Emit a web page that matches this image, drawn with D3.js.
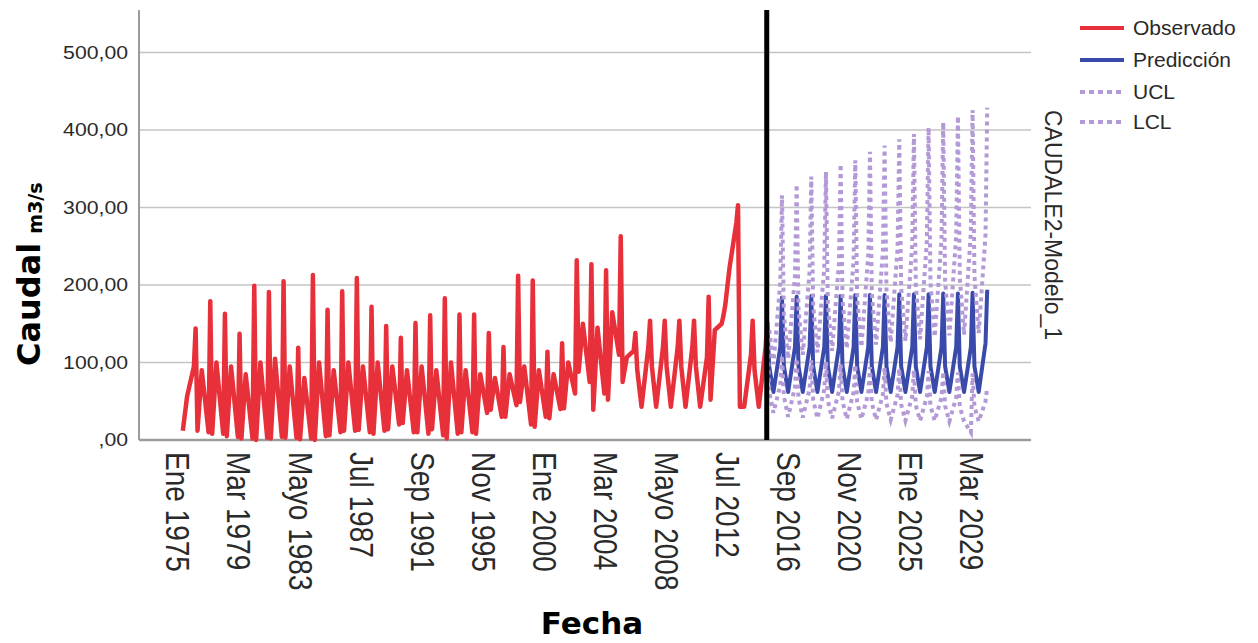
<!DOCTYPE html>
<html>
<head>
<meta charset="utf-8">
<script src="https://cdn.jsdelivr.net/npm/d3@7"></script>
<style>
  body { margin: 0; background: #fff; }
  svg { display: block; }
</style>
</head>
<body>
<svg width="1258" height="643"></svg>
<script>
// ---- data (one value per year and phase) ----
const obsStartYear = 1975;
// phases inside each year: Feb 1, Mar 15, May 1, Aug 15
const obsFeb = [null, 95, 10, 8, 4, 2, 3, 4, 3, 2, 5, 10, 12, 10, 12, 20, 10, 8, 6, 8, 10, 35, 30, 45, 20, 30, 40, 60, 75, 60, 110, 115, 120, 120, 120, 120, 107, 150, 280, 110, 120];
const obsMar = [null, 144, 179, 163, 137, 199, 191, 205, 119, 213, 168, 192, 209, 172, 147, 132, 151, 161, 183, 162, 162, 138, 120, 212, 206, 114, 125, 232, 227, 219, 263, 138, 154, 154, 154, 154, 185, 160, 303, 154, 152];
const obsMay = [12, 12, 8, 5, 2, 0, 2, 3, 1, 0, 6, 12, 13, 8, 14, 22, 10, 14, 2, 10, 8, 39, 30, 49, 17, 28, 41, 88, 39, 52, 75, 90, 95, 95, 95, 95, 52, 174, 43, 90, null];
const obsAug = [56, 90, 100, 95, 85, 100, 105, 95, 80, 100, 90, 100, 95, 100, 95, 90, 95, 90, 100, 90, 85, 80, 85, 95, 90, 85, 100, 150, 145, 165, 107, 43, 43, 43, 43, 43, 142, 222, 43, 43, null];

const fcStartYear = 2015;
const predFeb = [null, 120, 120, 120, 120, 120, 120, 120, 120, 120, 120, 120, 120, 120, 120, 125];
const predMar = [152, 184, 185, 186, 186, 186, 187, 187, 187, 188, 188, 188, 189, 189, 190, 194];
const predMay = [95, 95, 95, 95, 95, 95, 95, 95, 95, 95, 95, 95, 95, 95, 95, null];
const predAug = [62, 62, 62, 62, 62, 62, 62, 62, 62, 62, 62, 62, 62, 62, 62, null];

const uclFeb = [null, 204, 212, 218, 222, 228, 232, 239, 244, 247, 252, 257, 260, 264, 268, 265];
const uclMar = [152, 316, 330, 340, 346, 356, 361, 372, 380, 388, 395, 403, 410, 418, 426, 429];
const uclMay = [143, 162, 168, 173, 176, 181, 183, 189, 193, 196, 200, 203, 206, 209, 212, null];
const uclAug = [98, 105, 110, 113, 115, 118, 120, 123, 126, 128, 130, 133, 135, 136, 138, null];

const lclFeb = [null, 71, 68, 66, 65, 63, 62, 60, 59, 58, 57, 56, 55, 55, 10, 50];
const lclMar = [152, 109, 105, 103, 101, 98, 97, 94, 93, 92, 90, 89, 88, 87, 86, 68];
const lclMay = [63, 56, 54, 52, 51, 50, 49, 48, 47, 46, 45, 44, 44, 43, 43, null];
const lclAug = [35, 30, 29, 28, 28, 27, 27, 26, 26, 25, 25, 25, 24, 24, 24, null];

const forecastStart = new Date(2015, 2, 1);

const yTickValues = [0, 100, 200, 300, 400, 500];
const xTickDates = [
  new Date(1975, 0, 1), new Date(1979, 2, 1), new Date(1983, 4, 1), new Date(1987, 6, 1),
  new Date(1991, 8, 1), new Date(1995, 10, 1), new Date(2000, 0, 1), new Date(2004, 2, 1),
  new Date(2008, 4, 1), new Date(2012, 6, 1), new Date(2016, 8, 1), new Date(2020, 10, 1),
  new Date(2025, 0, 1), new Date(2029, 2, 1)
];
const xTickLabels = ["Ene 1975", "Mar 1979", "Mayo 1983", "Jul 1987", "Sep 1991", "Nov 1995",
  "Ene 2000", "Mar 2004", "Mayo 2008", "Jul 2012", "Sep 2016", "Nov 2020", "Ene 2025", "Mar 2029"];

const legendLabels = ["Observado", "Predicción", "UCL", "LCL"];

// ---- helpers ----
function toPoints(startYear, feb, mar, may, aug) {
  const pts = [];
  feb.forEach((_, i) => {
    const yr = startYear + i;
    [[feb[i], new Date(yr, 1, 1)], [mar[i], new Date(yr, 2, 15)],
     [may[i], new Date(yr, 4, 1)], [aug[i], new Date(yr, 7, 15)]]
      .forEach(([v, d]) => { if (v !== null) pts.push({ date: d, value: v }); });
  });
  return pts;
}

const observed = toPoints(obsStartYear, obsFeb, obsMar, obsMay, obsAug);
const predicted = toPoints(fcStartYear, predFeb, predMar, predMay, predAug);
const ucl = toPoints(fcStartYear, uclFeb, uclMar, uclMay, uclAug);
const lcl = toPoints(fcStartYear, lclFeb, lclMar, lclMay, lclAug);

// ---- layout ----
const svg = d3.select("svg");
const width = +svg.attr("width");
const height = +svg.attr("height");
const margin = { left: 139, top: 10, right: 227, bottom: 203 };
const plotW = width - margin.left - margin.right;
const plotH = height - margin.top - margin.bottom;

const red = "#e8303b";
const blue = "#3a4aaa";
const purple = "#b39ad6";
const tickFont = "'Liberation Sans', Arial, sans-serif";

const x = d3.scaleTime()
  .domain([xTickDates[0], xTickDates[xTickDates.length - 1]])
  .range([39, 833]);
const y = d3.scaleLinear().domain([0, 555]).range([plotH, 0]);

const esLocale = d3.formatLocale({ decimal: ",", thousands: ".", grouping: [3], currency: ["", ""] });
const fmt = v => esLocale.format(".2f")(v).replace(/^0,/, ",");

const g = svg.append("g")
  .attr("transform", `translate(${margin.left}, ${margin.top})`);

// gridlines
g.selectAll(".grid")
  .data(yTickValues.filter(v => v > 0))
  .join("line")
    .attr("x1", 0)
    .attr("x2", plotW)
    .attr("y1", d => y(d))
    .attr("y2", d => y(d))
    .attr("stroke", "#c4c4c4")
    .attr("stroke-width", 1.5);

// axis lines
g.append("line")
  .attr("x1", 0).attr("x2", 0).attr("y1", 0).attr("y2", plotH)
  .attr("stroke", "#9c9c9c").attr("stroke-width", 2);
g.append("line")
  .attr("x1", 0).attr("x2", plotW).attr("y1", plotH).attr("y2", plotH)
  .attr("stroke", "#9c9c9c").attr("stroke-width", 2.5);

// y tick labels (glyphs a little wide, as in the original export)
g.selectAll(".ytick")
  .data(yTickValues)
  .join("text")
    .attr("transform", d => `translate(-11, ${y(d)}) scale(1.18, 1)`)
    .attr("dy", "0.35em")
    .attr("text-anchor", "end")
    .attr("font-family", tickFont)
    .attr("font-size", 18)
    .attr("fill", "#2a2a2a")
    .text(fmt);

// x tick labels (rotated, reading downward)
g.selectAll(".xtick")
  .data(xTickDates)
  .join("text")
    .attr("transform", d => `translate(${x(d)}, ${plotH + 12}) rotate(90) scale(1, 1.18)`)
    .attr("dy", "0.35em")
    .attr("text-anchor", "start")
    .attr("font-family", tickFont)
    .attr("font-size", 28)
    .attr("fill", "#2a2a2a")
    .text((d, i) => xTickLabels[i]);

const line = d3.line()
  .x(d => x(d.date))
  .y(d => y(d.value));

g.append("path")
  .datum(observed)
  .attr("d", line)
  .attr("fill", "none")
  .attr("stroke", red)
  .attr("stroke-width", 4.5)
  .attr("stroke-linejoin", "round");

g.append("path")
  .datum(predicted)
  .attr("d", line)
  .attr("fill", "none")
  .attr("stroke", blue)
  .attr("stroke-width", 4)
  .attr("stroke-linejoin", "round");

[ucl, lcl].forEach(series => {
  g.append("path")
    .datum(series)
    .attr("d", line)
    .attr("fill", "none")
    .attr("stroke", purple)
    .attr("stroke-width", 4)
    .attr("stroke-dasharray", "4,4");
});

// forecast start marker
g.append("line")
  .attr("x1", x(forecastStart)).attr("x2", x(forecastStart))
  .attr("y1", 0).attr("y2", plotH)
  .attr("stroke", "#000")
  .attr("stroke-width", 5);

// axis titles
const yTitle = svg.append("text")
  .attr("transform", "translate(40, 366) rotate(-90)")
  .attr("font-family", "'DejaVu Sans', Verdana, sans-serif")
  .attr("font-weight", "bold")
  .attr("fill", "#000");
yTitle.append("tspan").attr("font-size", 32).text("Caudal");
yTitle.append("tspan").attr("font-size", 19).attr("dx", 9).attr("dy", 2).text("m3/s");

svg.append("text")
  .attr("x", 592)
  .attr("y", 634)
  .attr("text-anchor", "middle")
  .attr("font-family", "'DejaVu Sans', Verdana, sans-serif")
  .attr("font-weight", "bold")
  .attr("font-size", 31)
  .attr("fill", "#000")
  .text("Fecha");

// model name on the right
svg.append("text")
  .attr("transform", "translate(1053, 110) rotate(90)")
  .attr("dy", "0.35em")
  .attr("font-family", tickFont)
  .attr("font-size", 23)
  .attr("fill", "#2a2a2a")
  .text("CAUDALE2-Modelo_1");

// legend
const legendStyles = [
  { color: red, dash: null },
  { color: blue, dash: null },
  { color: purple, dash: "5,4" },
  { color: purple, dash: "5,4" }
];
const legendY = [28, 60, 92, 122];
const legend = svg.append("g");
legendLabels.forEach((label, i) => {
  legend.append("line")
    .attr("x1", 1080).attr("x2", 1124)
    .attr("y1", legendY[i]).attr("y2", legendY[i])
    .attr("stroke", legendStyles[i].color)
    .attr("stroke-width", 4)
    .attr("stroke-dasharray", legendStyles[i].dash);
  legend.append("text")
    .attr("x", 1133)
    .attr("y", legendY[i])
    .attr("dy", "0.35em")
    .attr("font-family", tickFont)
    .attr("font-size", 21)
    .attr("fill", "#2a2a2a")
    .text(label);
});
</script>
</body>
</html>
